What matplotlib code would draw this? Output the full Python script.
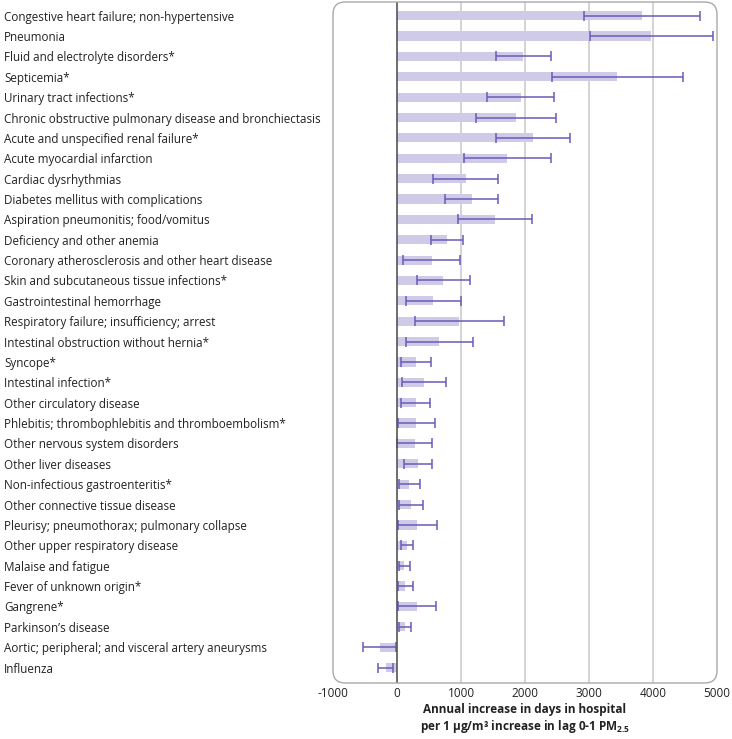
import numpy as np
import matplotlib
matplotlib.use('Agg')
import matplotlib.pyplot as plt
from matplotlib.patches import FancyBboxPatch

plt.rcParams['font.family'] = ['Open Sans', 'DejaVu Sans']
plt.rcParams['mathtext.fontset'] = 'custom'
plt.rcParams['mathtext.rm'] = 'Open Sans'
plt.rcParams['mathtext.bf'] = 'Open Sans:bold'

# ---- data ----
categories = [
    "Congestive heart failure; non-hypertensive",
    "Pneumonia",
    "Fluid and electrolyte disorders*",
    "Septicemia*",
    "Urinary tract infections*",
    "Chronic obstructive pulmonary disease and bronchiectasis",
    "Acute and unspecified renal failure*",
    "Acute myocardial infarction",
    "Cardiac dysrhythmias",
    "Diabetes mellitus with complications",
    "Aspiration pneumonitis; food/vomitus",
    "Deficiency and other anemia",
    "Coronary atherosclerosis and other heart disease",
    "Skin and subcutaneous tissue infections*",
    "Gastrointestinal hemorrhage",
    "Respiratory failure; insufficiency; arrest",
    "Intestinal obstruction without hernia*",
    "Syncope*",
    "Intestinal infection*",
    "Other circulatory disease",
    "Phlebitis; thrombophlebitis and thromboembolism*",
    "Other nervous system disorders",
    "Other liver diseases",
    "Non-infectious gastroenteritis*",
    "Other connective tissue disease",
    "Pleurisy; pneumothorax; pulmonary collapse",
    "Other upper respiratory disease",
    "Malaise and fatigue",
    "Fever of unknown origin*",
    "Gangrene*",
    "Parkinson\u2019s disease",
    "Aortic; peripheral; and visceral artery aneurysms",
    "Influenza",
]
estimate = [3830, 3975, 1975, 3445, 1930, 1855, 2120, 1720, 1075, 1170, 1535,
            780, 540, 720, 565, 970, 660, 295, 420, 295, 300, 280, 325, 195,
            215, 310, 155, 115, 130, 320, 120, -270, -170]
ci_low = [2925, 3015, 1545, 2425, 1400, 1230, 1550, 1040, 555, 750, 960,
          530, 90, 315, 135, 275, 135, 60, 80, 60, 20, 5, 105, 30,
          30, 10, 60, 30, 15, 15, 30, -530, -295]
ci_high = [4730, 4930, 2410, 4465, 2460, 2480, 2700, 2405, 1585, 1585, 2115,
           1025, 990, 1135, 1000, 1675, 1190, 525, 760, 520, 590, 545, 550, 365,
           405, 620, 245, 210, 245, 615, 225, -15, -60]
xticks = [-1000, 0, 1000, 2000, 3000, 4000, 5000]

bar_color = '#cfcae8'
err_color = '#6a5bb8'

fig = plt.figure(figsize=(7.32, 7.39), dpi=100)
ax = fig.add_axes([333 / 732, 1 - 683 / 739, 384 / 732, 681 / 739])

y = np.arange(len(categories))
est = np.array(estimate)
lo = np.array(ci_low)
hi = np.array(ci_high)

ax.barh(y, est, height=0.45, color=bar_color, zorder=2)
ax.errorbar(est, y, xerr=[est - lo, hi - est], fmt='none', ecolor=err_color,
            elinewidth=1.1, capsize=3.5, capthick=1.1, zorder=3)

# grid and zero line
for t in xticks[2:-1]:
    ax.axvline(t, color='#c8c8c8', lw=1.1, zorder=1)
ax.axvline(0, color='#555555', lw=1.2, zorder=4)

ax.set_xlim(-1000, 5000)
ax.set_ylim(len(categories) - 1 + 0.76, -0.67)

# rounded frame
for s in ax.spines.values():
    s.set_visible(False)
box = FancyBboxPatch((0, 0), 1, 1, boxstyle='round,pad=0,rounding_size=0.032',
                     mutation_aspect=384 / 681, transform=ax.transAxes,
                     fill=False, edgecolor='#aaaaaa', lw=1.0, clip_on=False, zorder=5)
ax.add_patch(box)

ax.set_xticks(xticks)
ax.set_xticklabels([str(t) for t in xticks], fontsize=8.5, color='#222222')
ax.tick_params(axis='x', length=0, pad=3)

ax.set_yticks(y)
ax.set_yticklabels(categories, fontsize=8.4, color='#222222')
ax.tick_params(axis='y', length=0, pad=329 / 100 * 72)
for lab in ax.get_yticklabels():
    lab.set_horizontalalignment('left')

ax.set_xlabel('Annual increase in days in hospital\nper 1 \u03bcg/m\u00b3 increase in lag 0-1 PM$_{\\mathbf{2.5}}$',
              fontsize=8.5, fontweight='bold', color='#222222', labelpad=2,
              linespacing=1.15)

fig.savefig('out.png', dpi=100)
